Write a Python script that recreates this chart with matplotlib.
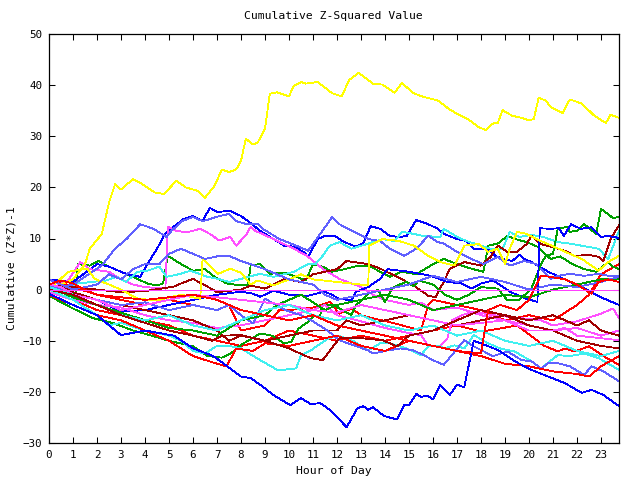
import matplotlib
matplotlib.use('Agg')
import matplotlib.pyplot as plt

plt.rcParams['font.family'] = ['DejaVu Sans Mono']

title = "Cumulative Z-Squared Value"
xlabel = "Hour of Day"
ylabel = "Cumulative (Z*Z)-1"
xticks = list(range(24))
yticks = [-30, -20, -10, 0, 10, 20, 30, 40, 50]

# (hour, cumulative value)
yellow1 = [(0,0),(0.5,1),(1,2),(1.5,5),(1.7,8),(2.2,10.9),(2.5,17),(2.75,20.6),(3.0,19.6),(3.5,21.6),
           (3.9,20.6),(4.4,19),(4.8,18.7),(5.3,21.3),(5.7,20),(6.2,19.3),(6.5,18),(6.9,20.3),(7.2,23.5),
           (7.5,23),(7.8,23.5),(8.0,25.2),(8.2,29.5),(8.5,28.4),(8.7,28.8),(9.0,31.5),(9.2,38.3),(9.5,38.6),
           (10.0,37.8),(10.2,39.9),(10.5,40.6),(10.7,40.3),(11.2,40.6),(11.8,38.4),(12.2,37.8),(12.5,41),
           (12.9,42.4),(13.5,40.3),(13.9,40.1),(14.4,38.5),(14.7,40.4),(15.2,38.4),(15.6,37.7),(16.2,37),
           (16.7,35.2),(17.2,33.9),(17.5,33.2),(17.9,31.8),(18.2,31.2),(18.5,32.5),(18.7,32.6),(18.9,35.1),
           (19.3,34),(19.7,33.6),(20.0,33.1),(20.2,33.4),(20.4,37.5),(20.7,37),(20.9,35.7),(21.4,34.5),
           (21.7,37.2),(22.2,36.4),(22.7,34.1),(23.2,32.6),(23.4,34.2),(23.75,33.6)]
yellow2 = [(0,0),(0.8,3.5),(1.6,4.1),(1.9,2.1),(2.5,1),(3,0),(3.7,-1.8),(4.5,-2.1),(5.5,-1),(6.3,-1.8),
           (6.4,6),(6.7,4.7),(7.05,3.1),(7.55,4.1),(8,3.3),(8.4,1),(8.7,1.8),(9.35,0.8),(10,2),(10.5,3),
           (11,2),(12,1.5),(12.6,1.2),(13.3,0.8),(13.35,8.6),(13.9,9.9),(14.6,9.5),(15.2,8.6),(15.8,6.6),
           (16.3,5.4),(16.9,4.7),(17.3,8.6),(17.9,8.9),(18.3,7.4),(18.7,8),(19,5),(19.2,8),(19.5,11.3),
           (19.9,10.9),(20.5,9.5),(21,8.5),(21.5,7.4),(22.2,6),(22.9,3.7),(23.3,5.4),(23.75,6.6)]
blue1 = [(0,2),(1,1.5),(2,5),(2.5,4.5),(3.25,3),(3.8,2.5),(4.1,5),(4.5,8),(4.85,11),(5.25,12.5),(5.6,13.8),
         (6,14.4),(6.4,13.4),(6.7,16),(7,15.2),(7.55,15.4),(8,14.4),(8.4,13),(8.8,11.5),(9.35,9.9),(9.8,8.6),
         (10.2,8.4),(10.6,7.4),(10.8,6.4),(11.2,9.9),(11.5,10.5),(11.9,10.5),(12.3,9.3),(12.8,8.4),(13.1,9.1),
         (13.4,12.4),(13.8,11.9),(14.2,10.5),(14.6,10.3),(14.9,10.5),(15.3,13.6),(15.8,12.8),(16.2,11.9),
         (16.45,10.9),(17,9.9),(17.4,9.5),(17.7,8),(18.3,8),(18.6,6.6),(18.9,6),(19.3,5.6),(19.6,6.8),
         (19.8,6),(20.1,5.4),(20.8,3.5),(21.5,2),(22.2,0.5),(23,-1.5),(23.75,-3)]
blue2 = [(0,0),(1,-1),(2,-2),(3,-4.3),(4,-4),(5,-3),(6,-2),(7,-1),(8,-0.4),(8.5,-0.8),(8.8,-1.4),(9.35,-0.2),
         (10,-1),(10.8,-1.2),(11.45,-0.4),(11.7,-0.8),(12.1,-1.8),(12.6,-2.1),(12.8,-0.4),(13.3,0.5),(13.8,2.1),
         (14.1,4),(15,3.5),(15.9,2.7),(16.6,1.5),(17.2,1.2),(17.6,0.2),(18,1.2),(18.5,1.8),(19.2,-0.4),
         (19.9,-1.8),(20.35,-2.4),(20.45,12),(20.9,11.9),(21.25,12),(21.45,10.5),(21.75,12.8),(22.15,11.9),
         (22.6,12.2),(23,10.3),(23.3,10.5),(23.75,10.1)]
blue3 = [(0,-0.8),(1,-3),(2,-5),(3,-8.9),(4,-8),(5.2,-9),(6,-11.5),(6.85,-13),(8,-17),(8.4,-17.3),(8.8,-18.6),
         (9.35,-20.6),(10.05,-22.6),(10.5,-21.2),(10.9,-22.4),(11.3,-22.2),(11.7,-23.5),(12.4,-26.9),
         (12.85,-23.2),(13.1,-22.8),(13.3,-23.5),(13.5,-23),(13.95,-24.7),(14.5,-25.4),(14.8,-22.5),(15,-22.6),
         (15.3,-20.4),(15.5,-21),(15.75,-20.7),(16,-21.5),(16.3,-18.7),(16.7,-20.6),(17,-18.6),(17.3,-19.1),
         (17.7,-10),(18.1,-10.7),(18.7,-11.8),(19.4,-14),(20.1,-15.7),(20.8,-17),(21.5,-18.3),(22.2,-20.2),
         (22.6,-19.6),(23.1,-20.6),(23.75,-22.8)]
slate1 = [(0,0),(1,1),(2.2,4.7),(2.75,8),(3.25,10),(3.8,12.8),(4.35,11.9),(4.9,10.3),(5.1,11.5),(5.55,13.4),
          (6,14.2),(6.4,13.4),(6.7,13.8),(7.1,14.4),(7.5,14.8),(7.8,13.4),(8.25,12.8),(8.7,12.8),(8.9,11.9),
          (9.6,9.9),(10.3,8.6),(10.8,7.6),(11.8,14.2),(12.1,12.8),(12.7,11.3),(13.3,9.9),(13.8,9.5),(14.2,8),
          (14.8,6.6),(15.3,8),(15.8,10.5),(16.2,9.3),(16.45,9),(17,7.4),(17.6,6),(18.1,5),(18.7,6.4),
          (19.2,4.7),(19.8,5.6),(20.3,5),(20.6,3.5),(20.9,2.1),(21.2,2.7),(21.7,3.1),(22.3,2.7),(22.9,3.1),
          (23.3,2.7),(23.75,2.7)]
slate2 = [(0,1),(1,-1),(2,-2),(3,-3),(4,-2.5),(5,-4),(6,-3),(7,-4),(7.5,-3),(8,-5),(8.5,-6.6),(9,-1.8),
          (9.35,-2.7),(9.9,-4.1),(10.5,-5),(11,-6.2),(11.6,-8),(12.1,-9.9),(12.7,-10.9),(13.3,-11.9),
          (13.5,-12.5),(14.1,-11.9),(14.65,-11.5),(15.2,-11.9),(15.6,-12.8),(16,-13.8),(16.45,-14.7),
          (17.3,-9.9),(17.7,-11.1),(18.5,-13),(19.1,-12.1),(19.7,-13.8),(20.1,-14),(20.5,-15.4),(20.8,-14.4),
          (21.2,-14.4),(21.7,-15),(22.3,-16.7),(22.6,-15),(23.1,-16),(23.75,-17.9)]
slate3 = [(0,2),(0.5,1),(1,0),(2,1),(2.5,3),(3,2),(3.5,4),(4,5),(4.6,5),(5,7),(5.5,8),(6,7),(6.5,6),(7,6.5),
          (7.5,6.6),(8,5.6),(9,4),(10,2),(11,1),(11.5,-1),(12,-2),(13,-1),(14,0),(15,1),(16,2.7),(17,1.5),
          (18,2.5),(19,1.5),(20,0),(21,1),(22,0.5),(23,1.5),(23.75,2.5)]
magenta0 = [(0,0),(23.75,0)]
magenta1 = [(0,0),(0.8,1.8),(1.3,5.4),(1.7,4),(2.5,3.5),(3,2),(3.5,1),(4,0.5),(4.85,0.2),(4.95,12.3),
            (5.3,11.5),(5.75,11.2),(6.3,11.9),(6.7,10.9),(7.1,9.6),(7.55,10.3),(7.8,8.6),(8.25,10.9),(8.4,12.3),
            (8.6,11.5),(9.35,9.9),(10.2,8),(10.75,6.6),(11.4,4.1),(12.1,2.1),(13,0.5),(13.5,-1),(14,-2),(15,-3),
            (15.5,-2.5),(16,-4),(17,-3.5),(18,-5),(19,-6),(20,-7),(21,-8),(21.5,-7.5),(22,-9),(23,-9.5),(23.75,-9.9)]
magenta2 = [(0,-0.5),(1,-2),(2,-3),(3,-3.5),(4,-5),(5,-6),(6,-6.5),(7,-7.5),(8,-7),(9,-6),(10,-5),(11,-4),
            (11.5,-3),(12,-5),(13,-6.2),(14,-7.5),(14.5,-8),(15,-8.5),(15.5,-8.9),(15.8,-11),(16.3,-11.1),
            (16.6,-9.5),(16.8,-6),(17.2,-5),(17.7,-4.3),(18.5,-5),(19.5,-5.5),(20.5,-6),(21,-7),(22,-6.2),
            (22.6,-5.3),(23,-4.7),(23.5,-3.7),(23.75,-5.6)]
magenta3 = [(0,1),(0.5,0.5),(1,-1),(2,-2),(3,-4),(4,-3),(5,-2),(6,-1),(7,-1.5),(8,-2),(9,-2.5),(10,-3),
            (11,-4),(12,-4.5),(13,-3),(14,-4),(15,-5),(16,-6),(17,-7),(18,-6.5),(19,-6),(20,-8),(21,-8),
            (22,-7.5),(23,-9),(23.75,-8)]
cyan1 = [(0,0),(0.5,-0.5),(1.2,1.2),(2.4,1.8),(2.8,2.5),(3.2,1.5),(3.7,3.5),(4.1,3.7),(4.6,4.5),(4.9,2.5),
         (5.4,3),(5.9,3.7),(6.6,2.5),(7.05,2.1),(7.5,1.5),(8,2.1),(8.8,3.1),(9.35,2.5),(10.2,3.5),(10.8,5),
         (11.1,5),(11.4,6.6),(11.7,8.6),(12.1,9.3),(12.6,8),(13.3,9),(13.9,9.9),(14.4,9.5),(14.7,11.3),
         (15.2,10.9),(15.6,10.5),(16.3,10.3),(16.45,11.9),(17,10.3),(17.4,9.5),(18,8.6),(18.4,8),(18.9,8),
         (19.2,11.3),(19.6,10.3),(20.1,10.7),(20.6,10.3),(21.2,9.3),(21.7,9),(22.3,8.5),(22.9,8),(23.3,6),
         (23.75,11.5)]
cyan2 = [(0,0),(1,-2),(2,-5),(2.5,-7),(3,-6.5),(4,-8),(5,-9),(5.5,-10),(6,-12),(6.5,-12.5),(7,-11),
         (7.5,-11),(8,-11.5),(8.8,-13.8),(9.55,-15.8),(10.3,-15.4),(10.5,-12.8),(10.9,-11.9),(11.65,-9.5),
         (12.1,-9.1),(12.7,-10.1),(13.3,-11.9),(13.8,-10.5),(14.2,-10.5),(14.9,-11.5),(15.5,-12.8),
         (15.8,-11.1),(16.3,-11.1),(16.45,-11.5),(16.9,-10.9),(17.3,-11.5),(17.7,-8.9),(18.3,-10.5),
         (18.8,-11.5),(19.4,-12.1),(20.1,-14),(20.5,-15.4),(21.2,-12.8),(21.7,-13),(22.3,-12.5),(22.9,-13.4),
         (23.75,-15.7)]
cyan3 = [(0,0.5),(1,-1),(2,-3),(3,-5),(4,-6),(5,-5),(6,-7),(7,-8),(8,-6),(9,-4),(10,-3),(11,-5),(12,-6),
         (13,-5),(14,-7),(15,-8),(16,-7),(17,-9),(18,-8),(19,-10),(20,-11),(21,-10),(22,-12),(23,-13),
         (23.75,-12)]
green1 = [(0,0),(0.5,-0.5),(1.1,-1),(1.2,5),(1.7,4.7),(2.05,5.6),(2.5,4.5),(3.4,2.7),(4.1,1.2),(4.5,0.8),
          (4.75,1.2),(4.95,6.6),(5.5,5),(6,3.7),(6.5,4),(6.9,2.5),(7.4,1.2),(8,0.8),(8.3,1),(8.4,4.7),
          (8.8,5),(9.2,3.1),(9.8,3.3),(10.3,2.5),(10.7,1.8),(11,5),(11.4,4.5),(11.8,3.5),(12.3,4),(12.9,4.7),
          (13.4,4.5),(13.8,3.5),(14.2,2.5),(14.7,3.5),(15.3,3),(15.9,4.7),(16.45,6),(17,5),(17.6,4.1),
          (18.1,3.5),(18.3,8.6),(18.7,9),(19.1,10.5),(19.5,9.8),(19.9,9.3),(20.35,8.4),(20.9,6),(21.3,6.5),
          (21.8,5),(22.3,4),(22.8,3.5),(23.3,5.4),(23.5,4.5),(23.75,4)]
green2 = [(0,-1.2),(1,-3.7),(1.85,-5.6),(2.7,-6.6),(3.5,-8),(4.2,-8.9),(5,-10),(6,-11.1),(6.6,-13),(7.2,-13.3),
          (7.6,-12.4),(8,-10.8),(8.8,-8.6),(9.3,-9),(9.8,-10.5),(10.1,-10.2),(10.4,-7.6),(10.8,-6.3),(11,-5.3),
          (11.3,-5),(11.4,-3),(11.9,-3),(12.1,-3.7),(12.6,-5),(12.8,-3),(13.1,-1.8),(13.3,-0.8),(13.7,-0.1),
          (14,-2.4),(14.3,0.2),(14.5,0.8),(14.9,1.5),(15.2,0.6),(15.4,1.8),(16,1),(16.5,-1),(17,-2),(17.5,-1),
          (18,0.5),(18.7,0.2),(19.1,-2.1),(19.6,-2),(20.1,0.2),(20.5,5),(20.7,6.6),(21,7),(21.2,11.9),
          (21.6,12.3),(21.7,11.3),(22,11.5),(22.3,12.8),(22.8,10.9),(23,15.8),(23.5,14),(23.75,14.2)]
green3 = [(0,0.5),(0.5,-0.5),(1,-1.5),(2,-3),(3,-4.5),(4,-6),(5,-7.5),(6,-8),(7,-9),(7.5,-7.5),(8,-6),
          (9,-5),(9.5,-3),(10,-2),(10.5,-1),(11,-2.5),(11.5,-4),(12,-3),(13,-2),(14,-1),(15,-2),(15.5,-3),
          (16,-4),(17,-3),(18,-2),(19,-1),(20,-1.5),(21,0),(22,1),(23,2),(23.75,2)]
darkred1 = [(0,0),(1,0.5),(2,0),(3,-0.5),(4,-0.3),(5.2,0.6),(5.5,1.2),(6,2.1),(6.6,0.6),(7,-0.5),(8,0),
            (8.4,0.8),(9,0.2),(9.8,2.1),(10.5,1.5),(11,3),(12,4),(12.4,5.6),(13.3,5),(13.8,4.1),(14.5,2.5),
            (15.2,0.8),(15.8,-1.2),(16.1,-1.5),(16.5,2),(16.7,4.1),(17.3,5.4),(18,4.7),(18.4,6.4),(18.7,8.6),
            (19.1,7.4),(19.5,7.4),(19.9,8.9),(20.1,10.5),(20.5,8.9),(20.9,8.4),(21.5,7.6),(21.9,6.6),(22.5,6.8),
            (22.9,6.4),(23.1,5.6),(23.4,9.9),(23.75,12.6)]
darkred2 = [(0,0),(0.5,1),(1,-0.5),(2,-2),(3,-3),(4,-4),(5,-5),(6,-6),(7,-8),(7.5,-10),(8,-9),(9,-10),
            (10,-9),(11,-8),(12,-8),(12.4,-6),(13,-7),(14,-6),(15,-5),(16,-6),(17,-7),(18,-6),(19,-5),
            (20,-7),(21,-8),(22,-10),(23,-11),(23.75,-11.5)]
darkred3 = [(0,0),(1,-1),(2,-3),(3,-5),(4,-6.5),(5,-8),(6,-9),(6.8,-10),(7.2,-9),(8,-8.9),(9,-10),(10,-11.5),
            (10.9,-13.4),(11.4,-13.8),(12.1,-9.5),(13,-9.5),(13.9,-9.9),(14.5,-11.1),(15,-9),(16,-8),(17,-6),
            (18,-4),(19,-5),(20,-6),(21,-5),(22,-7),(22.5,-6),(23,-8),(23.75,-9)]
red1 = [(0,1),(0.5,1.5),(1,0.5),(2,-1),(3,-2),(4,-3),(5,-2),(6,-3),(7,-4),(7.5,-3),(8,-8),(9,-7),(9.6,-4),
        (10,-4),(11,-3.5),(11.7,-2.4),(12.1,-4.7),(12.6,-3.7),(13,-5),(13.5,-5.6),(14.4,-6.6),(15.5,-8),
        (15.8,-3),(16,-2),(17,-3),(18,-4),(19,-6),(20,-5),(21,-6),(22,-3),(22.5,-1),(23,3),(23.75,5)]
red2 = [(0,0),(1,-2),(2,-4),(3,-5),(4,-6),(5,-7),(6,-9),(7,-10),(8,-11),(9,-10),(10,-8),(11,-9),(12,-10),
        (13,-9),(14,-10),(15,-9),(16,-8),(17,-7),(18,-8.2),(18.8,-7.6),(19.5,-7),(20.1,-9.1),(20.6,-10.9),
        (21.2,-12.1),(21.5,-11.5),(21.9,-12.1),(22.5,-11.1),(23.1,-13),(23.75,-14.7)]
red3 = [(0,-1),(1,-3),(2,-5),(3,-6),(4,-8),(5,-10),(6,-13),(7,-14.5),(7.4,-15),(7.8,-11.5),(8.5,-12),
        (9,-10.5),(10,-11),(11,-10),(12,-9),(13,-11),(14,-12),(15,-10),(16,-11),(17,-12),(18,-13),(19,-14.5),
        (20,-15),(21,-16),(22,-16.5),(22.5,-17),(23,-15),(23.75,-13)]
red4 = [(0,1),(0.3,1.5),(0.5,1.8),(1,1.2),(1.5,0),(2,-1),(3,-1.5),(4,-2),(5,-1.5),(6,-1),(7,-2),(8,-4),
        (9,-5),(10,-6),(11,-5),(12,-7),(13,-8),(14,-9),(15,-10),(16,-11),(17,-12),(18,-12.5),(18.3,-4),
        (18.8,-3),(19.5,-4),(20,-2),(20.5,2.7),(20.9,2.5),(21.5,2),(22,1),(22.6,-0.8),(22.9,1.5),(23.3,2),
        (23.75,1.5)]

YELLOW, BLUE, SLATE, MAGENTA = '#FFFF00', '#0000FF', '#6060FF', '#FF50FF'
CYAN, GREEN, DARKRED, RED = '#40F0F0', '#00A000', '#A00000', '#FF0000'

series = [
    (red1, RED), (green1, GREEN), (blue1, BLUE), (magenta1, MAGENTA), (cyan1, CYAN), (darkred1, DARKRED),
    (yellow1, YELLOW), (slate1, SLATE), (red2, RED), (green2, GREEN), (blue2, BLUE), (magenta2, MAGENTA),
    (cyan2, CYAN), (darkred2, DARKRED), (yellow2, YELLOW), (slate2, SLATE), (red3, RED), (green3, GREEN),
    (blue3, BLUE), (magenta3, MAGENTA), (cyan3, CYAN), (darkred3, DARKRED), (slate3, SLATE), (red4, RED),
    (magenta0, '#FF40FF'),
]

fig = plt.figure(figsize=(6.4, 4.8), dpi=100)
ax = fig.add_axes([49/640, 37/480, 570/640, 409/480])
for pts, col in series:
    hs = [p[0] for p in pts]
    vs = [p[1] for p in pts]
    ax.plot(hs, vs, color=col, lw=0.6, antialiased=False)

ax.set_xlim(0, 23.75)
ax.set_ylim(-30, 50)
ax.set_xticks(xticks)
ax.set_yticks(yticks)
ax.tick_params(direction='in', top=True, right=True, length=4, width=0.75,
               labelsize=7.8, pad=5)
for s in ax.spines.values():
    s.set_linewidth(0.9)

fig.text(333/640, 1 - 16/480, title, ha='center', va='center', fontsize=8.2)
fig.text(334/640, 1 - 471/480, xlabel, ha='center', va='center', fontsize=8.2)
fig.text(12/640, 1 - 268/480, ylabel, ha='center', va='center', rotation=90, fontsize=8.2)

fig.savefig('out.png', dpi=100)
